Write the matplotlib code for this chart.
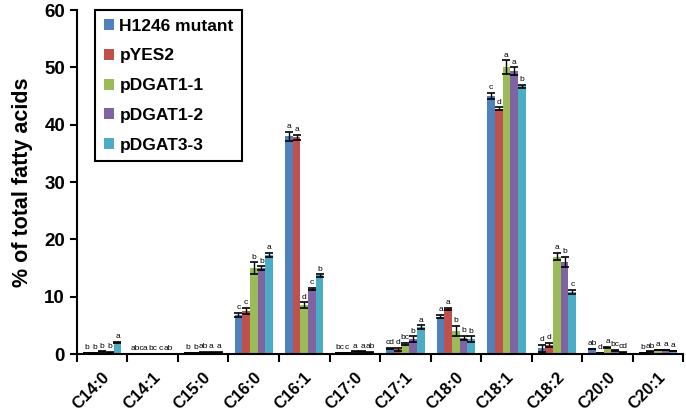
import matplotlib
matplotlib.use("Agg")
import matplotlib.pyplot as plt  # noqa: E402
import numpy as np  # noqa: E402

plt.rcParams["font.family"] = ["Liberation Sans", "DejaVu Sans"]
plt.rcParams["font.weight"] = "bold"

categories = ["C14:0", "C14:1", "C15:0", "C16:0", "C16:1", "C17:0",
              "C17:1", "C18:0", "C18:1", "C18:2", "C20:0", "C20:1"]
series = ["H1246 mutant", "pYES2", "pDGAT1-1", "pDGAT1-2", "pDGAT3-3"]
colors = ["#4F81BD", "#C0504D", "#9BBB59", "#8064A2", "#4BACC6"]

h1246 = [0.2, 0.05, 0.2, 6.8, 38.0, 0.2, 1.0, 6.5, 45.0, 1.0, 0.9, 0.2]
pyes2 = [0.2, 0.05, 0.2, 7.5, 37.8, 0.2, 0.8, 7.8, 42.8, 1.6, 0.2, 0.4]
pdgat1_1 = [0.4, 0.05, 0.3, 15.0, 8.5, 0.4, 1.8, 4.0, 50.0, 17.0, 1.2, 0.7]
pdgat1_2 = [0.3, 0.05, 0.3, 15.0, 11.3, 0.4, 2.6, 2.8, 49.3, 16.0, 0.6, 0.7]
pdgat3_3 = [2.0, 0.05, 0.3, 17.3, 13.7, 0.3, 4.7, 2.6, 46.7, 10.8, 0.3, 0.5]

err_h1246 = [0.05, 0.02, 0.05, 0.4, 0.8, 0.05, 0.1, 0.3, 0.6, 0.6, 0.05, 0.05]
err_pyes2 = [0.05, 0.02, 0.05, 0.5, 0.4, 0.05, 0.3, 0.2, 0.2, 0.4, 0.05, 0.05]
err_pdgat1_1 = [0.05, 0.02, 0.05, 1.0, 0.5, 0.05, 0.2, 0.9, 1.2, 0.6, 0.1, 0.05]
err_pdgat1_2 = [0.05, 0.02, 0.05, 0.3, 0.2, 0.05, 0.5, 0.4, 0.7, 0.9, 0.1, 0.05]
err_pdgat3_3 = [0.1, 0.02, 0.05, 0.4, 0.2, 0.05, 0.3, 0.5, 0.3, 0.4, 0.05, 0.05]

let_h1246 = ["b", "abc", "b", "c", "a", "bc", "cd", "a", "c", "d", "ab", "b"]
let_pyes2 = ["b", "a", "b", "c", "a", "c", "d", "a", "d", "d", "d", "ab"]
let_pdgat1_1 = ["b", "bc", "ab", "b", "d", "a", "bc", "b", "a", "a", "a", "a"]
let_pdgat1_2 = ["b", "c", "a", "b", "c", "a", "b", "b", "a", "b", "bc", "a"]
let_pdgat3_3 = ["a", "ab", "a", "a", "b", "ab", "a", "b", "b", "c", "cd", "a"]

values = [h1246, pyes2, pdgat1_1, pdgat1_2, pdgat3_3]
errors = [err_h1246, err_pyes2, err_pdgat1_1, err_pdgat1_2, err_pdgat3_3]
letters = [let_h1246, let_pyes2, let_pdgat1_1, let_pdgat1_2, let_pdgat3_3]

fig = plt.figure(figsize=(6.86, 4.17), dpi=100)
ax = fig.add_axes([0.112, 0.151, 0.884, 0.825])

x = np.arange(len(categories))
w = 0.152
for j, (name, col) in enumerate(zip(series, colors)):
    xs = x + (j - 2) * w
    ax.bar(xs, values[j], w, color=col, label=name, zorder=2)
    ax.errorbar(xs, values[j], yerr=errors[j], fmt="none", ecolor="black",
                elinewidth=1, capsize=3, capthick=1.2, zorder=3)
    for k in range(len(categories)):
        ax.text(xs[k], values[j][k] + errors[j][k] + 0.3, letters[j][k],
                ha="center", va="bottom", fontsize=6, fontweight="normal")

ax.set_xlim(-0.5, len(categories) - 0.5)
ax.set_ylim(0, 60)
ax.set_yticks(range(0, 61, 10))
ax.set_xticks(x)
ax.set_xticklabels(categories, rotation=45, ha="right", rotation_mode="anchor",
                   fontsize=12, fontweight="bold")
ax.set_xticks(np.arange(-0.5, len(categories), 1), minor=True)
ax.tick_params(axis="x", which="major", length=0, pad=11)
ax.tick_params(axis="x", which="minor", length=6, width=1.5)
ax.tick_params(axis="y", length=5, width=1.5, labelsize=13.5)
for lab in ax.get_yticklabels():
    lab.set_fontweight("bold")
for side in ("top", "right"):
    ax.spines[side].set_visible(False)
for side in ("left", "bottom"):
    ax.spines[side].set_linewidth(1.5)

ax.set_ylabel("% of total fatty acids", fontsize=15.5, fontweight="bold", labelpad=8)

leg = ax.legend(loc="upper left", bbox_to_anchor=(0.03, 1.0), fancybox=False,
                edgecolor="black", framealpha=1, fontsize=12.5,
                handlelength=0.6, handleheight=0.6, handletextpad=0.3,
                labelspacing=0.85, borderpad=0.5, borderaxespad=0)
leg.get_frame().set_linewidth(1.5)

fig.savefig("out.png", dpi=100)
